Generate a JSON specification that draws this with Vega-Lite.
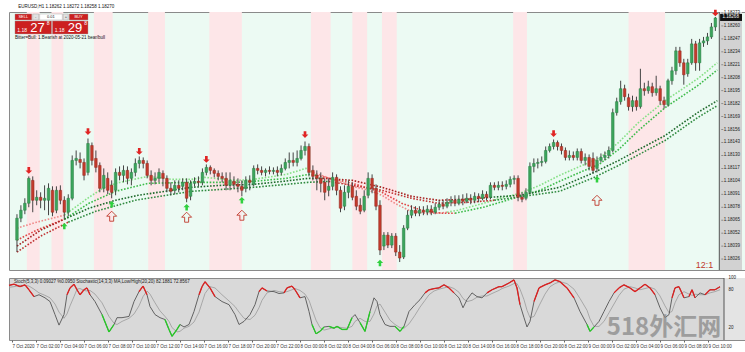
{
"$schema":"https://vega.github.io/schema/vega-lite/v6.json",
"padding":{"left":7,"top":3,"right":0,"bottom":0},
"background":"white",
"spacing":3,
"config":{"font":"Liberation Sans","view":{"stroke":"#8a8a8a","strokeWidth":1}},
"datasets":{
"pticks":[{"t":178.75,"p":1.18273},{"t":178.75,"p":1.1826},{"t":178.75,"p":1.18247},{"t":178.75,"p":1.18234},{"t":178.75,"p":1.18221},{"t":178.75,"p":1.18208},{"t":178.75,"p":1.18195},{"t":178.75,"p":1.18182},{"t":178.75,"p":1.18169},{"t":178.75,"p":1.18156},{"t":178.75,"p":1.18143},{"t":178.75,"p":1.1813},{"t":178.75,"p":1.18117},{"t":178.75,"p":1.18104},{"t":178.75,"p":1.18091},{"t":178.75,"p":1.18078},{"t":178.75,"p":1.18065},{"t":178.75,"p":1.18052},{"t":178.75,"p":1.18039},{"t":178.75,"p":1.18026}],
"sticks":[{"t":178.75,"lv":100},{"t":178.75,"lv":80},{"t":178.75,"lv":20}],
"bars":[
{"t":0,"o":1.18045,"h":1.18071,"l":1.18033,"c":1.18067},
{"t":1,"o":1.18067,"h":1.1808,"l":1.18063,"c":1.18075},
{"t":2,"o":1.18075,"h":1.18087,"l":1.18071,"c":1.18082},
{"t":3,"o":1.18082,"h":1.18109,"l":1.18078,"c":1.18107},
{"t":4,"o":1.18105,"h":1.18109,"l":1.18073,"c":1.18085},
{"t":5,"o":1.18085,"h":1.18095,"l":1.1808,"c":1.18088},
{"t":6,"o":1.18088,"h":1.18093,"l":1.18077,"c":1.18085},
{"t":7,"o":1.18085,"h":1.181,"l":1.18075,"c":1.18087},
{"t":8,"o":1.18085,"h":1.18102,"l":1.1807,"c":1.18097},
{"t":9,"o":1.18095,"h":1.18099,"l":1.18069,"c":1.18073},
{"t":10,"o":1.18075,"h":1.18099,"l":1.18072,"c":1.18095},
{"t":11,"o":1.18095,"h":1.181,"l":1.18081,"c":1.18085},
{"t":12,"o":1.18085,"h":1.18089,"l":1.18067,"c":1.18073},
{"t":13,"o":1.18073,"h":1.18091,"l":1.18069,"c":1.18087},
{"t":14,"o":1.18087,"h":1.1813,"l":1.18085,"c":1.18125},
{"t":15,"o":1.18125,"h":1.18135,"l":1.1812,"c":1.18127},
{"t":16,"o":1.18126,"h":1.18133,"l":1.18117,"c":1.18123},
{"t":17,"o":1.18123,"h":1.18127,"l":1.18105,"c":1.1811},
{"t":18,"o":1.18113,"h":1.18147,"l":1.1811,"c":1.18142},
{"t":19,"o":1.1814,"h":1.18143,"l":1.1812,"c":1.18125},
{"t":20,"o":1.18127,"h":1.18135,"l":1.18113,"c":1.18118},
{"t":21,"o":1.1812,"h":1.18123,"l":1.18093,"c":1.18097},
{"t":22,"o":1.18097,"h":1.18117,"l":1.18093,"c":1.1811},
{"t":23,"o":1.18107,"h":1.18113,"l":1.18091,"c":1.18095},
{"t":24,"o":1.181,"h":1.18105,"l":1.18087,"c":1.18093},
{"t":25,"o":1.18095,"h":1.18117,"l":1.1809,"c":1.18113},
{"t":26,"o":1.18113,"h":1.18119,"l":1.18105,"c":1.1811},
{"t":27,"o":1.1811,"h":1.1812,"l":1.18103,"c":1.18115},
{"t":28,"o":1.18115,"h":1.18119,"l":1.18101,"c":1.18107},
{"t":29,"o":1.18107,"h":1.18117,"l":1.181,"c":1.18113},
{"t":30,"o":1.18113,"h":1.18127,"l":1.18109,"c":1.18122},
{"t":31,"o":1.18122,"h":1.18129,"l":1.18117,"c":1.18125},
{"t":32,"o":1.18125,"h":1.18128,"l":1.18117,"c":1.18122},
{"t":33,"o":1.18122,"h":1.18125,"l":1.18107,"c":1.1811},
{"t":34,"o":1.1811,"h":1.18115,"l":1.181,"c":1.18105},
{"t":35,"o":1.18105,"h":1.18113,"l":1.18101,"c":1.18107},
{"t":36,"o":1.18107,"h":1.18117,"l":1.18103,"c":1.18113},
{"t":37,"o":1.18112,"h":1.18115,"l":1.18099,"c":1.18107},
{"t":38,"o":1.18107,"h":1.1811,"l":1.18093,"c":1.18097},
{"t":39,"o":1.18097,"h":1.18103,"l":1.1809,"c":1.18094},
{"t":40,"o":1.18095,"h":1.18105,"l":1.18091,"c":1.181},
{"t":41,"o":1.181,"h":1.18105,"l":1.18093,"c":1.18097},
{"t":42,"o":1.18099,"h":1.18107,"l":1.18095,"c":1.18103},
{"t":43,"o":1.18103,"h":1.18107,"l":1.18083,"c":1.18087},
{"t":44,"o":1.18089,"h":1.18105,"l":1.18085,"c":1.18102},
{"t":45,"o":1.18102,"h":1.18108,"l":1.18099,"c":1.18104},
{"t":46,"o":1.18104,"h":1.18109,"l":1.18099,"c":1.18103},
{"t":47,"o":1.18103,"h":1.18117,"l":1.181,"c":1.18113},
{"t":48,"o":1.18113,"h":1.18121,"l":1.1811,"c":1.18118},
{"t":49,"o":1.18118,"h":1.1812,"l":1.18111,"c":1.18115},
{"t":50,"o":1.18115,"h":1.18117,"l":1.18108,"c":1.18112},
{"t":51,"o":1.18112,"h":1.18115,"l":1.18105,"c":1.18109},
{"t":52,"o":1.18109,"h":1.18113,"l":1.18103,"c":1.18107},
{"t":53,"o":1.18107,"h":1.18113,"l":1.18095,"c":1.181},
{"t":54,"o":1.181,"h":1.18113,"l":1.18095,"c":1.18105},
{"t":55,"o":1.18104,"h":1.18109,"l":1.18097,"c":1.18101},
{"t":56,"o":1.18101,"h":1.18107,"l":1.18093,"c":1.18099},
{"t":57,"o":1.18099,"h":1.18105,"l":1.18089,"c":1.18095},
{"t":58,"o":1.18097,"h":1.18109,"l":1.18093,"c":1.18105},
{"t":59,"o":1.18105,"h":1.1811,"l":1.18095,"c":1.18103},
{"t":60,"o":1.18101,"h":1.1812,"l":1.18099,"c":1.18117},
{"t":61,"o":1.18117,"h":1.18121,"l":1.18111,"c":1.18115},
{"t":62,"o":1.18115,"h":1.18119,"l":1.1811,"c":1.18113},
{"t":63,"o":1.18113,"h":1.18117,"l":1.18109,"c":1.18115},
{"t":64,"o":1.18115,"h":1.18119,"l":1.18111,"c":1.18114},
{"t":65,"o":1.18114,"h":1.18118,"l":1.18111,"c":1.18115},
{"t":66,"o":1.18115,"h":1.18119,"l":1.18109,"c":1.18113},
{"t":67,"o":1.18113,"h":1.18121,"l":1.1811,"c":1.18117},
{"t":68,"o":1.18117,"h":1.18127,"l":1.18115,"c":1.18123},
{"t":69,"o":1.18123,"h":1.18133,"l":1.18117,"c":1.18125},
{"t":70,"o":1.18125,"h":1.18133,"l":1.18119,"c":1.18123},
{"t":71,"o":1.18123,"h":1.18135,"l":1.18119,"c":1.18127},
{"t":72,"o":1.18127,"h":1.1814,"l":1.18125,"c":1.18135},
{"t":73,"o":1.18135,"h":1.18144,"l":1.1813,"c":1.18139},
{"t":74,"o":1.18139,"h":1.18142,"l":1.18109,"c":1.18113},
{"t":75,"o":1.18115,"h":1.1812,"l":1.18105,"c":1.18109},
{"t":76,"o":1.1811,"h":1.18115,"l":1.18095,"c":1.18107},
{"t":77,"o":1.18107,"h":1.18113,"l":1.18093,"c":1.18102},
{"t":78,"o":1.18103,"h":1.18107,"l":1.18085,"c":1.18093},
{"t":79,"o":1.18095,"h":1.18107,"l":1.18089,"c":1.18099},
{"t":80,"o":1.18099,"h":1.18113,"l":1.18095,"c":1.18108},
{"t":81,"o":1.18108,"h":1.18111,"l":1.1809,"c":1.18095},
{"t":82,"o":1.18095,"h":1.18099,"l":1.18073,"c":1.18077},
{"t":83,"o":1.18079,"h":1.181,"l":1.18075,"c":1.18093},
{"t":84,"o":1.18093,"h":1.18105,"l":1.18087,"c":1.18099},
{"t":85,"o":1.18099,"h":1.18103,"l":1.18085,"c":1.18088},
{"t":86,"o":1.18089,"h":1.18095,"l":1.18075,"c":1.18079},
{"t":87,"o":1.1808,"h":1.18087,"l":1.18071,"c":1.18074},
{"t":88,"o":1.18075,"h":1.18095,"l":1.18073,"c":1.18089},
{"t":89,"o":1.1809,"h":1.18113,"l":1.18087,"c":1.18107},
{"t":90,"o":1.18107,"h":1.18111,"l":1.18092,"c":1.18097},
{"t":91,"o":1.18097,"h":1.18101,"l":1.18075,"c":1.18079},
{"t":92,"o":1.1808,"h":1.18085,"l":1.1803,"c":1.18035},
{"t":93,"o":1.18039,"h":1.18053,"l":1.18035,"c":1.1805},
{"t":94,"o":1.1805,"h":1.18053,"l":1.18037,"c":1.1804},
{"t":95,"o":1.1804,"h":1.18052,"l":1.18037,"c":1.18049},
{"t":96,"o":1.18049,"h":1.18052,"l":1.18029,"c":1.18033},
{"t":97,"o":1.18033,"h":1.1804,"l":1.18023,"c":1.18027},
{"t":98,"o":1.18028,"h":1.1806,"l":1.18026,"c":1.18057},
{"t":99,"o":1.18057,"h":1.18075,"l":1.18055,"c":1.1807},
{"t":100,"o":1.1807,"h":1.1808,"l":1.18067,"c":1.18075},
{"t":101,"o":1.18075,"h":1.18079,"l":1.18069,"c":1.18072},
{"t":102,"o":1.18072,"h":1.18079,"l":1.18069,"c":1.18075},
{"t":103,"o":1.18075,"h":1.18079,"l":1.1807,"c":1.18073},
{"t":104,"o":1.18073,"h":1.1808,"l":1.1807,"c":1.18076},
{"t":105,"o":1.18076,"h":1.1808,"l":1.1807,"c":1.18073},
{"t":106,"o":1.18073,"h":1.18082,"l":1.18071,"c":1.18078},
{"t":107,"o":1.18078,"h":1.18085,"l":1.18075,"c":1.18081},
{"t":108,"o":1.18081,"h":1.18085,"l":1.18076,"c":1.18079},
{"t":109,"o":1.18079,"h":1.18087,"l":1.18077,"c":1.18083},
{"t":110,"o":1.18083,"h":1.18089,"l":1.18079,"c":1.18085},
{"t":111,"o":1.18085,"h":1.1809,"l":1.18079,"c":1.18082},
{"t":112,"o":1.18082,"h":1.1809,"l":1.1808,"c":1.18086},
{"t":113,"o":1.18086,"h":1.18091,"l":1.1808,"c":1.18084},
{"t":114,"o":1.18084,"h":1.18092,"l":1.18082,"c":1.18087},
{"t":115,"o":1.18087,"h":1.18091,"l":1.18081,"c":1.18085},
{"t":116,"o":1.18085,"h":1.18093,"l":1.18082,"c":1.18089},
{"t":117,"o":1.18089,"h":1.18092,"l":1.18083,"c":1.18087},
{"t":118,"o":1.18087,"h":1.18095,"l":1.18085,"c":1.18091},
{"t":119,"o":1.18091,"h":1.18094,"l":1.18085,"c":1.18088},
{"t":120,"o":1.18088,"h":1.18103,"l":1.18086,"c":1.181},
{"t":121,"o":1.181,"h":1.18103,"l":1.18095,"c":1.18098},
{"t":122,"o":1.18098,"h":1.18104,"l":1.18095,"c":1.181},
{"t":123,"o":1.181,"h":1.18104,"l":1.18095,"c":1.18099},
{"t":124,"o":1.18099,"h":1.18105,"l":1.18096,"c":1.18101},
{"t":125,"o":1.18101,"h":1.18109,"l":1.18098,"c":1.18106},
{"t":126,"o":1.18106,"h":1.1811,"l":1.18101,"c":1.18107},
{"t":127,"o":1.18107,"h":1.1811,"l":1.18084,"c":1.18088},
{"t":128,"o":1.18088,"h":1.18093,"l":1.18083,"c":1.18086},
{"t":129,"o":1.18087,"h":1.18097,"l":1.18085,"c":1.18093},
{"t":130,"o":1.18093,"h":1.18123,"l":1.18091,"c":1.18119},
{"t":131,"o":1.18119,"h":1.18127,"l":1.18113,"c":1.18122},
{"t":132,"o":1.18122,"h":1.18127,"l":1.18117,"c":1.18123},
{"t":133,"o":1.18123,"h":1.18129,"l":1.18119,"c":1.18124},
{"t":134,"o":1.18124,"h":1.18139,"l":1.18122,"c":1.18135},
{"t":135,"o":1.18135,"h":1.18142,"l":1.18133,"c":1.18139},
{"t":136,"o":1.18139,"h":1.18146,"l":1.18136,"c":1.18143},
{"t":137,"o":1.18143,"h":1.18145,"l":1.18135,"c":1.18139},
{"t":138,"o":1.18139,"h":1.18142,"l":1.18131,"c":1.18135},
{"t":139,"o":1.18135,"h":1.18138,"l":1.18125,"c":1.18128},
{"t":140,"o":1.18128,"h":1.18135,"l":1.18125,"c":1.1813},
{"t":141,"o":1.1813,"h":1.18134,"l":1.18125,"c":1.18128},
{"t":142,"o":1.18128,"h":1.18137,"l":1.18125,"c":1.18134},
{"t":143,"o":1.18134,"h":1.18137,"l":1.18122,"c":1.18125},
{"t":144,"o":1.18125,"h":1.18132,"l":1.1812,"c":1.18128},
{"t":145,"o":1.18128,"h":1.18131,"l":1.18115,"c":1.18119},
{"t":146,"o":1.18127,"h":1.18133,"l":1.18112,"c":1.18115},
{"t":147,"o":1.18117,"h":1.18129,"l":1.18113,"c":1.18125},
{"t":148,"o":1.18125,"h":1.18132,"l":1.18123,"c":1.18128},
{"t":149,"o":1.18128,"h":1.18134,"l":1.18125,"c":1.1813},
{"t":150,"o":1.1813,"h":1.18139,"l":1.18127,"c":1.18135},
{"t":151,"o":1.18135,"h":1.18177,"l":1.18133,"c":1.18173},
{"t":152,"o":1.18173,"h":1.18188,"l":1.1817,"c":1.18184},
{"t":153,"o":1.18184,"h":1.18205,"l":1.18181,"c":1.18197},
{"t":154,"o":1.18197,"h":1.18201,"l":1.18185,"c":1.18189},
{"t":155,"o":1.18188,"h":1.18192,"l":1.18175,"c":1.18179},
{"t":156,"o":1.18179,"h":1.1819,"l":1.18174,"c":1.18185},
{"t":157,"o":1.18185,"h":1.18189,"l":1.18175,"c":1.18179},
{"t":158,"o":1.18179,"h":1.18217,"l":1.18177,"c":1.18197},
{"t":159,"o":1.18197,"h":1.18203,"l":1.1819,"c":1.18195},
{"t":160,"o":1.18195,"h":1.18205,"l":1.18192,"c":1.18199},
{"t":161,"o":1.18199,"h":1.18203,"l":1.18189,"c":1.18193},
{"t":162,"o":1.18193,"h":1.1821,"l":1.1819,"c":1.18197},
{"t":163,"o":1.18197,"h":1.182,"l":1.18181,"c":1.18185},
{"t":164,"o":1.18185,"h":1.18189,"l":1.18177,"c":1.18181},
{"t":165,"o":1.18181,"h":1.18207,"l":1.18179,"c":1.18205},
{"t":166,"o":1.18205,"h":1.18219,"l":1.18201,"c":1.18215},
{"t":167,"o":1.18215,"h":1.18239,"l":1.18211,"c":1.18235},
{"t":168,"o":1.18235,"h":1.18239,"l":1.18219,"c":1.18223},
{"t":169,"o":1.18223,"h":1.18227,"l":1.18201,"c":1.18211},
{"t":170,"o":1.18212,"h":1.18227,"l":1.18209,"c":1.18223},
{"t":171,"o":1.18223,"h":1.18247,"l":1.18221,"c":1.18242},
{"t":172,"o":1.18242,"h":1.18245,"l":1.18215,"c":1.18223},
{"t":173,"o":1.18223,"h":1.18247,"l":1.18215,"c":1.18243},
{"t":174,"o":1.18243,"h":1.18249,"l":1.18239,"c":1.18245},
{"t":175,"o":1.18245,"h":1.18253,"l":1.18241,"c":1.18249},
{"t":176,"o":1.18249,"h":1.18263,"l":1.18247,"c":1.18259},
{"t":177,"o":1.18259,"h":1.18269,"l":1.18255,"c":1.18268}
],
"bands":[{"b1":2.5,"b2":5.75},{"b1":8.75,"b2":11.75},{"b1":19.5,"b2":24.25},{"b1":33.25,"b2":37.5},{"b1":48.75,"b2":57},{"b1":74.5,"b2":79.5},{"b1":85,"b2":88.75},{"b1":92.5,"b2":96.25},{"b1":125.75,"b2":129.25},{"b1":155,"b2":164.25}],
"ma":[
{"t":0,"v":1.18057,"ma":"fast","seg":"f1","trend":"dn"},{"t":5,"v":1.18063,"ma":"fast","seg":"f1","trend":"dn"},{"t":12,"v":1.1807,"ma":"fast","seg":"f1","trend":"dn"},
{"t":12,"v":1.1807,"ma":"fast","seg":"f2","trend":"up"},{"t":18.25,"v":1.18088,"ma":"fast","seg":"f2","trend":"up"},{"t":21.75,"v":1.18097,"ma":"fast","seg":"f2","trend":"up"},{"t":25,"v":1.18102,"ma":"fast","seg":"f2","trend":"up"},{"t":30.75,"v":1.18107,"ma":"fast","seg":"f2","trend":"up"},{"t":33.25,"v":1.18109,"ma":"fast","seg":"f2","trend":"up"},{"t":39.25,"v":1.18106,"ma":"fast","seg":"f2","trend":"up"},{"t":44.25,"v":1.18106,"ma":"fast","seg":"f2","trend":"up"},{"t":47.5,"v":1.18108,"ma":"fast","seg":"f2","trend":"up"},{"t":55.75,"v":1.18105,"ma":"fast","seg":"f2","trend":"up"},{"t":60,"v":1.18106,"ma":"fast","seg":"f2","trend":"up"},{"t":68.25,"v":1.18111,"ma":"fast","seg":"f2","trend":"up"},{"t":73.25,"v":1.18117,"ma":"fast","seg":"f2","trend":"up"},{"t":75,"v":1.18113,"ma":"fast","seg":"f2","trend":"up"},
{"t":75,"v":1.18113,"ma":"fast","seg":"f3","trend":"dn"},{"t":80.75,"v":1.18105,"ma":"fast","seg":"f3","trend":"dn"},{"t":85,"v":1.18099,"ma":"fast","seg":"f3","trend":"dn"},{"t":89.25,"v":1.18095,"ma":"fast","seg":"f3","trend":"dn"},{"t":92.5,"v":1.1809,"ma":"fast","seg":"f3","trend":"dn"},{"t":95.75,"v":1.18082,"ma":"fast","seg":"f3","trend":"dn"},{"t":99.25,"v":1.18075,"ma":"fast","seg":"f3","trend":"dn"},{"t":103.25,"v":1.18072,"ma":"fast","seg":"f3","trend":"dn"},{"t":106.75,"v":1.18072,"ma":"fast","seg":"f3","trend":"dn"},{"t":109,"v":1.18073,"ma":"fast","seg":"f3","trend":"dn"},
{"t":109,"v":1.18073,"ma":"fast","seg":"f4","trend":"up"},{"t":111.75,"v":1.18075,"ma":"fast","seg":"f4","trend":"up"},{"t":118.25,"v":1.18082,"ma":"fast","seg":"f4","trend":"up"},{"t":122.5,"v":1.18087,"ma":"fast","seg":"f4","trend":"up"},{"t":127.5,"v":1.18092,"ma":"fast","seg":"f4","trend":"up"},{"t":132.5,"v":1.181,"ma":"fast","seg":"f4","trend":"up"},{"t":137.5,"v":1.1811,"ma":"fast","seg":"f4","trend":"up"},{"t":143.25,"v":1.1812,"ma":"fast","seg":"f4","trend":"up"},{"t":147.5,"v":1.18127,"ma":"fast","seg":"f4","trend":"up"},{"t":152.5,"v":1.18143,"ma":"fast","seg":"f4","trend":"up"},{"t":157.5,"v":1.18163,"ma":"fast","seg":"f4","trend":"up"},{"t":164.25,"v":1.18185,"ma":"fast","seg":"f4","trend":"up"},{"t":172.5,"v":1.18207,"ma":"fast","seg":"f4","trend":"up"},{"t":177.5,"v":1.18223,"ma":"fast","seg":"f4","trend":"up"},
{"t":0,"v":1.18045,"ma":"mid","seg":"m1","trend":"dn"},{"t":5,"v":1.18055,"ma":"mid","seg":"m1","trend":"dn"},{"t":12,"v":1.18066,"ma":"mid","seg":"m1","trend":"dn"},
{"t":12,"v":1.18066,"ma":"mid","seg":"m2","trend":"up"},{"t":18.25,"v":1.18082,"ma":"mid","seg":"m2","trend":"up"},{"t":25,"v":1.18094,"ma":"mid","seg":"m2","trend":"up"},{"t":33.25,"v":1.18102,"ma":"mid","seg":"m2","trend":"up"},{"t":44.25,"v":1.18103,"ma":"mid","seg":"m2","trend":"up"},{"t":55.75,"v":1.18103,"ma":"mid","seg":"m2","trend":"up"},{"t":60,"v":1.18104,"ma":"mid","seg":"m2","trend":"up"},{"t":68.25,"v":1.18107,"ma":"mid","seg":"m2","trend":"up"},{"t":74,"v":1.18111,"ma":"mid","seg":"m2","trend":"up"},{"t":76,"v":1.1811,"ma":"mid","seg":"m2","trend":"up"},
{"t":76,"v":1.1811,"ma":"mid","seg":"m3","trend":"dn"},{"t":85,"v":1.18102,"ma":"mid","seg":"m3","trend":"dn"},{"t":92.5,"v":1.18093,"ma":"mid","seg":"m3","trend":"dn"},{"t":97.5,"v":1.18082,"ma":"mid","seg":"m3","trend":"dn"},{"t":102.5,"v":1.18075,"ma":"mid","seg":"m3","trend":"dn"},{"t":107.5,"v":1.18072,"ma":"mid","seg":"m3","trend":"dn"},{"t":111,"v":1.18072,"ma":"mid","seg":"m3","trend":"dn"},
{"t":111,"v":1.18072,"ma":"mid","seg":"m4","trend":"up"},{"t":118.25,"v":1.18078,"ma":"mid","seg":"m4","trend":"up"},{"t":122.5,"v":1.18083,"ma":"mid","seg":"m4","trend":"up"},{"t":132.5,"v":1.18095,"ma":"mid","seg":"m4","trend":"up"},{"t":137.5,"v":1.18104,"ma":"mid","seg":"m4","trend":"up"},{"t":143.25,"v":1.18114,"ma":"mid","seg":"m4","trend":"up"},{"t":147.5,"v":1.18121,"ma":"mid","seg":"m4","trend":"up"},{"t":152.5,"v":1.18136,"ma":"mid","seg":"m4","trend":"up"},{"t":157.5,"v":1.18155,"ma":"mid","seg":"m4","trend":"up"},{"t":164.25,"v":1.18178,"ma":"mid","seg":"m4","trend":"up"},{"t":172.5,"v":1.182,"ma":"mid","seg":"m4","trend":"up"},{"t":177.5,"v":1.18216,"ma":"mid","seg":"m4","trend":"up"},
{"t":0,"v":1.18039,"ma":"slow","seg":"s1","trend":"dn"},{"t":6,"v":1.18055,"ma":"slow","seg":"s1","trend":"dn"},{"t":12,"v":1.18066,"ma":"slow","seg":"s1","trend":"dn"},
{"t":12,"v":1.18066,"ma":"slow","seg":"s2","trend":"up"},{"t":18.25,"v":1.18077,"ma":"slow","seg":"s2","trend":"up"},{"t":25,"v":1.18085,"ma":"slow","seg":"s2","trend":"up"},{"t":30.75,"v":1.1809,"ma":"slow","seg":"s2","trend":"up"},{"t":39.25,"v":1.18095,"ma":"slow","seg":"s2","trend":"up"},{"t":44.25,"v":1.18098,"ma":"slow","seg":"s2","trend":"up"},{"t":51.75,"v":1.181,"ma":"slow","seg":"s2","trend":"up"},{"t":60,"v":1.18101,"ma":"slow","seg":"s2","trend":"up"},{"t":67.5,"v":1.18104,"ma":"slow","seg":"s2","trend":"up"},{"t":73.75,"v":1.18107,"ma":"slow","seg":"s2","trend":"up"},{"t":77.5,"v":1.18107,"ma":"slow","seg":"s2","trend":"up"},
{"t":77.5,"v":1.18107,"ma":"slow","seg":"s3","trend":"dn"},{"t":85,"v":1.18105,"ma":"slow","seg":"s3","trend":"dn"},{"t":92.5,"v":1.18098,"ma":"slow","seg":"s3","trend":"dn"},{"t":100,"v":1.18089,"ma":"slow","seg":"s3","trend":"dn"},{"t":106.75,"v":1.18085,"ma":"slow","seg":"s3","trend":"dn"},{"t":114.25,"v":1.18086,"ma":"slow","seg":"s3","trend":"dn"},{"t":120,"v":1.18088,"ma":"slow","seg":"s3","trend":"dn"},
{"t":120,"v":1.18088,"ma":"slow","seg":"s4","trend":"up"},{"t":127.5,"v":1.1809,"ma":"slow","seg":"s4","trend":"up"},{"t":137.5,"v":1.18098,"ma":"slow","seg":"s4","trend":"up"},{"t":145.75,"v":1.18112,"ma":"slow","seg":"s4","trend":"up"},{"t":152.5,"v":1.18125,"ma":"slow","seg":"s4","trend":"up"},{"t":164.25,"v":1.1815,"ma":"slow","seg":"s4","trend":"up"},{"t":172.5,"v":1.18173,"ma":"slow","seg":"s4","trend":"up"},{"t":177.5,"v":1.18185,"ma":"slow","seg":"s4","trend":"up"},
{"t":0,"v":1.18033,"ma":"slowb","seg":"b1","trend":"dn"},{"t":6,"v":1.18049,"ma":"slowb","seg":"b1","trend":"dn"},{"t":13,"v":1.18063,"ma":"slowb","seg":"b1","trend":"dn"},
{"t":13,"v":1.18063,"ma":"slowb","seg":"b2","trend":"up"},{"t":20,"v":1.18074,"ma":"slowb","seg":"b2","trend":"up"},{"t":30,"v":1.18085,"ma":"slowb","seg":"b2","trend":"up"},{"t":44.25,"v":1.18094,"ma":"slowb","seg":"b2","trend":"up"},{"t":60,"v":1.18098,"ma":"slowb","seg":"b2","trend":"up"},{"t":73.75,"v":1.18103,"ma":"slowb","seg":"b2","trend":"up"},{"t":79,"v":1.18104,"ma":"slowb","seg":"b2","trend":"up"},
{"t":79,"v":1.18104,"ma":"slowb","seg":"b3","trend":"dn"},{"t":92.5,"v":1.18095,"ma":"slowb","seg":"b3","trend":"dn"},{"t":100,"v":1.18087,"ma":"slowb","seg":"b3","trend":"dn"},{"t":106.75,"v":1.18082,"ma":"slowb","seg":"b3","trend":"dn"},{"t":114.25,"v":1.18083,"ma":"slowb","seg":"b3","trend":"dn"},{"t":121,"v":1.18085,"ma":"slowb","seg":"b3","trend":"dn"},
{"t":121,"v":1.18085,"ma":"slowb","seg":"b4","trend":"up"},{"t":137.5,"v":1.18094,"ma":"slowb","seg":"b4","trend":"up"},{"t":145.75,"v":1.18107,"ma":"slowb","seg":"b4","trend":"up"},{"t":152.5,"v":1.1812,"ma":"slowb","seg":"b4","trend":"up"},{"t":164.25,"v":1.18145,"ma":"slowb","seg":"b4","trend":"up"},{"t":172.5,"v":1.18168,"ma":"slowb","seg":"b4","trend":"up"},{"t":177.5,"v":1.1818,"ma":"slowb","seg":"b4","trend":"up"}
],
"arrows":[
{"t":3,"p":1.18115,"type":"sell"},{"t":18,"p":1.18154,"type":"sell"},{"t":31,"p":1.18134,"type":"sell"},{"t":48,"p":1.18126,"type":"sell"},{"t":73,"p":1.18151,"type":"sell"},{"t":136,"p":1.18152,"type":"sell"},{"t":177,"p":1.18273,"type":"sell"},
{"t":12,"p":1.18059,"type":"buy"},{"t":24,"p":1.18081,"type":"buy"},{"t":43,"p":1.18078,"type":"buy"},{"t":57,"p":1.18085,"type":"buy"},{"t":92,"p":1.18022,"type":"buy"},{"t":147,"p":1.18106,"type":"buy"},
{"t":24,"p":1.18069,"type":"hollow"},{"t":43,"p":1.18068,"type":"hollow"},{"t":57,"p":1.1807,"type":"hollow"},{"t":147,"p":1.18085,"type":"hollow"}
],
"ui":[
{"t1":-0.5,"t2":3.75,"p1":1.18272,"p2":1.18266,"kind":"red"},
{"t1":4,"t2":5.5,"p1":1.18272,"p2":1.18266,"kind":"grey"},
{"t1":5.75,"t2":11.5,"p1":1.18272,"p2":1.18266,"kind":"white"},
{"t1":11.75,"t2":13,"p1":1.18272,"p2":1.18266,"kind":"grey"},
{"t1":13.25,"t2":18,"p1":1.18272,"p2":1.18266,"kind":"red"},
{"t1":-0.5,"t2":8.75,"p1":1.18265,"p2":1.18252,"kind":"red"},
{"t1":9,"t2":18,"p1":1.18265,"p2":1.18252,"kind":"red"}
],
"uitext":[
{"t":1.6,"p":1.18269,"label":"SELL","role":"btn"},
{"t":4.75,"p":1.18269,"label":"-","role":"dark"},
{"t":8.6,"p":1.18269,"label":"0.01","role":"dark"},
{"t":12.4,"p":1.18269,"label":"+","role":"dark"},
{"t":15.6,"p":1.18269,"label":"BUY","role":"btn"},
{"t":1.3,"p":1.18256,"label":"1.18","role":"small"},
{"t":5.2,"p":1.18258,"label":"27","role":"big"},
{"t":7.9,"p":1.18263,"label":"8","role":"small"},
{"t":10.8,"p":1.18256,"label":"1.18","role":"small"},
{"t":14.7,"p":1.18258,"label":"29","role":"big"},
{"t":17.4,"p":1.18263,"label":"8","role":"small"},
{"t":174.25,"p":1.1802,"label":"12:1","role":"ratio"},
{"t":180.9,"p":1.182685,"label":"1.18268","role":"pricebox"}
],
"uileft":[
{"t":-0.5,"p":1.18248,"label":"Bitter=Bull: 1.Bearish at 2020-05-21 bear/bull"},
{"t":0.3,"p":1.18279,"label":"EURUSD,H1  1.18262 1.18272 1.18258 1.18270"}
],
"stoch":[
{"t":-0.75,"k":88,"d":85},{"t":0.5,"k":90,"d":86},{"t":2,"k":86,"d":88},{"t":3.25,"k":89,"d":88},{"t":4.25,"k":81,"d":87},{"t":5.5,"k":70,"d":82},{"t":6.75,"k":73,"d":76},{"t":8.25,"k":68,"d":72},{"t":9.5,"k":62,"d":68},{"t":10.75,"k":41,"d":58},{"t":11.75,"k":24,"d":45},{"t":13,"k":41,"d":35},{"t":13.75,"k":73,"d":42},{"t":14.5,"k":84,"d":55},{"t":15.5,"k":90,"d":70},{"t":16.25,"k":81,"d":82},{"t":17,"k":73,"d":83},{"t":18,"k":81,"d":80},{"t":18.75,"k":84,"d":79},{"t":19.5,"k":73,"d":80},{"t":20.75,"k":62,"d":74},{"t":22.5,"k":41,"d":60},{"t":24.25,"k":13,"d":38},{"t":25.5,"k":25,"d":27},{"t":26.25,"k":36,"d":25},{"t":27.5,"k":36,"d":30},{"t":29.25,"k":38,"d":35},{"t":30.5,"k":62,"d":42},{"t":31.75,"k":78,"d":55},{"t":32.75,"k":87,"d":70},{"t":33.75,"k":73,"d":79},{"t":34.5,"k":54,"d":74},{"t":35.75,"k":41,"d":60},{"t":37,"k":36,"d":47},{"t":38.25,"k":33,"d":38},{"t":39.25,"k":17,"d":30},{"t":40,"k":6,"d":20},{"t":41.25,"k":17,"d":13},{"t":42,"k":25,"d":14},{"t":43,"k":21,"d":19},{"t":44.25,"k":25,"d":22},{"t":45.5,"k":46,"d":29},{"t":46.75,"k":73,"d":45},{"t":47.5,"k":86,"d":60},{"t":48.25,"k":94,"d":75},{"t":49.5,"k":84,"d":86},{"t":50.75,"k":70,"d":84},{"t":52.5,"k":62,"d":73},{"t":54.25,"k":57,"d":63},{"t":55.75,"k":41,"d":54},{"t":56.75,"k":25,"d":45},{"t":58,"k":30,"d":35},{"t":59.5,"k":41,"d":33},{"t":60.75,"k":57,"d":40},{"t":61.75,"k":78,"d":52},{"t":62.5,"k":84,"d":64},{"t":63.75,"k":79,"d":76},{"t":65.5,"k":78,"d":80},{"t":66.75,"k":75,"d":78},{"t":68,"k":76,"d":77},{"t":68.75,"k":84,"d":78},{"t":70,"k":87,"d":81},{"t":70.75,"k":81,"d":83},{"t":72,"k":68,"d":80},{"t":73.25,"k":70,"d":74},{"t":74.25,"k":46,"d":64},{"t":75,"k":25,"d":50},{"t":76,"k":10,"d":32},{"t":77,"k":14,"d":20},{"t":78,"k":21,"d":16},{"t":79.25,"k":22,"d":18},{"t":80.5,"k":19,"d":20},{"t":81.25,"k":22,"d":21},{"t":82.5,"k":17,"d":20},{"t":83.75,"k":17,"d":19},{"t":85,"k":36,"d":22},{"t":85.75,"k":41,"d":30},{"t":87,"k":28,"d":35},{"t":88.25,"k":14,"d":30},{"t":89.5,"k":46,"d":30},{"t":90.5,"k":68,"d":42},{"t":91.25,"k":62,"d":55},{"t":92,"k":41,"d":58},{"t":93.25,"k":25,"d":45},{"t":94.5,"k":22,"d":32},{"t":95.75,"k":22,"d":25},{"t":97,"k":14,"d":20},{"t":98,"k":22,"d":19},{"t":99.25,"k":46,"d":26},{"t":100.75,"k":57,"d":40},{"t":102,"k":65,"d":53},{"t":103.25,"k":76,"d":64},{"t":104.25,"k":81,"d":73},{"t":105.5,"k":83,"d":79},{"t":106.75,"k":84,"d":82},{"t":108,"k":89,"d":84},{"t":109.25,"k":84,"d":86},{"t":110.5,"k":76,"d":83},{"t":111.75,"k":68,"d":77},{"t":112.75,"k":52,"d":67},{"t":113.75,"k":65,"d":62},{"t":115,"k":76,"d":64},{"t":116.25,"k":70,"d":69},{"t":117.5,"k":68,"d":71},{"t":118.75,"k":76,"d":71},{"t":120,"k":81,"d":75},{"t":121.75,"k":86,"d":80},{"t":122.5,"k":86,"d":83},{"t":124.25,"k":92,"d":87},{"t":125.5,"k":97,"d":91},{"t":126.25,"k":84,"d":91},{"t":127,"k":57,"d":82},{"t":128,"k":36,"d":65},{"t":128.75,"k":21,"d":48},{"t":129.5,"k":30,"d":36},{"t":130.5,"k":62,"d":38},{"t":131.75,"k":84,"d":55},{"t":133.25,"k":89,"d":74},{"t":134.5,"k":92,"d":86},{"t":135.75,"k":97,"d":91},{"t":137,"k":94,"d":94},{"t":138.75,"k":84,"d":91},{"t":140.5,"k":68,"d":82},{"t":142,"k":46,"d":67},{"t":143.75,"k":25,"d":48},{"t":144.5,"k":14,"d":34},{"t":145.5,"k":21,"d":22},{"t":146.75,"k":30,"d":22},{"t":148,"k":46,"d":30},{"t":149.25,"k":62,"d":44},{"t":150.5,"k":76,"d":58},{"t":151.75,"k":84,"d":72},{"t":153,"k":89,"d":82},{"t":154.5,"k":84,"d":86},{"t":155.75,"k":78,"d":84},{"t":157,"k":84,"d":81},{"t":158.25,"k":90,"d":83},{"t":159.5,"k":84,"d":85},{"t":160.75,"k":73,"d":82},{"t":162,"k":52,"d":71},{"t":163.25,"k":36,"d":55},{"t":164.25,"k":41,"d":44},{"t":165,"k":68,"d":46},{"t":165.75,"k":84,"d":60},{"t":166.75,"k":86,"d":73},{"t":168,"k":68,"d":78},{"t":169.25,"k":70,"d":74},{"t":170,"k":81,"d":72},{"t":170.75,"k":68,"d":74},{"t":172,"k":76,"d":73},{"t":173.25,"k":73,"d":73},{"t":174.5,"k":81,"d":76},{"t":175.75,"k":81,"d":78},{"t":177,"k":86,"d":81}
]
},
"vconcat":[
{
"width":738,"height":258,
"view":{"fill":"#ecfaf3","stroke":"#8a8a8a"},
"encoding":{"x":{"field":"t","type":"quantitative","scale":{"domain":[-0.75,183.75],"nice":false,"zero":false},"axis":null}},
"layer":[
{"data":{"name":"bands"},"mark":{"type":"rect","color":"#fde6e8","clip":true},
 "encoding":{"x":{"field":"b1","type":"quantitative"},"x2":{"field":"b2"}}},
{"data":{"values":[{"p":1.18268}]},"mark":{"type":"rule","color":"#b5b5b5","strokeWidth":0.7},
 "encoding":{"x":{"datum":-0.75,"type":"quantitative"},"x2":{"datum":178},
  "y":{"field":"p","type":"quantitative","scale":{"domain":[1.18015,1.18274],"nice":false,"zero":false},"axis":null}}},
{"data":{"name":"ma"},"mark":{"type":"line","strokeDash":[1.6,1.6],"strokeWidth":1.6,"clip":true},
 "encoding":{"y":{"field":"v","type":"quantitative"},"detail":{"field":"seg"},"order":{"field":"t"},
  "color":{"condition":[
   {"test":"datum.ma=='fast' && datum.trend=='up'","value":"#86e086"},
   {"test":"datum.ma=='fast'","value":"#f08a8a"},
   {"test":"datum.ma=='mid' && datum.trend=='up'","value":"#3dbb4a"},
   {"test":"datum.ma=='mid'","value":"#e04848"},
   {"test":"datum.ma=='slow' && datum.trend=='up'","value":"#1f6a2c"},
   {"test":"datum.ma=='slow'","value":"#a82222"},
   {"test":"datum.trend=='up'","value":"#2f8a3f"}],"value":"#c03333"}}},
{"data":{"name":"bars"},"mark":{"type":"rule","strokeWidth":1,"color":"#444"},
 "encoding":{"y":{"field":"l","type":"quantitative"},"y2":{"field":"h"}}},
{"data":{"name":"bars"},"mark":{"type":"bar","width":2.6,"strokeWidth":0.5},
 "encoding":{"y":{"field":"o","type":"quantitative"},"y2":{"field":"c"},
  "color":{"condition":{"test":"datum.c >= datum.o","value":"#3ba55c"},"value":"#c43a2c"},
  "stroke":{"condition":{"test":"datum.c >= datum.o","value":"#2d7d45"},"value":"#8c2a20"}}},
{"data":{"name":"arrows"},"transform":[{"filter":"datum.type=='sell'"}],
 "mark":{"type":"point","shape":"M-0.4,-1L0.4,-1L0.4,0L1,0L0,1L-1,0L-0.4,0Z","filled":true,"color":"#e02424","size":45,"opacity":1},
 "encoding":{"y":{"field":"p","type":"quantitative"}}},
{"data":{"name":"arrows"},"transform":[{"filter":"datum.type=='buy'"}],
 "mark":{"type":"point","shape":"M0,-1L1,0L0.4,0L0.4,1L-0.4,1L-0.4,0L-1,0Z","filled":true,"color":"#2fd03f","size":40,"opacity":1},
 "encoding":{"y":{"field":"p","type":"quantitative"}}},
{"data":{"name":"arrows"},"transform":[{"filter":"datum.type=='hollow'"}],
 "mark":{"type":"point","shape":"M0,-1L1,0L0.4,0L0.4,1L-0.4,1L-0.4,0L-1,0Z","filled":false,"color":"#c0392b","strokeWidth":0.9,"size":100,"opacity":1},
 "encoding":{"y":{"field":"p","type":"quantitative"}}},
{"data":{"values":[{"a":178,"b":183.75}]},"mark":{"type":"rect","color":"#d2d2d2"},
 "encoding":{"x":{"field":"a","type":"quantitative"},"x2":{"field":"b"}}},
{"data":{"values":[{"a":178}]},"mark":{"type":"rule","color":"#555","strokeWidth":1},
 "encoding":{"x":{"field":"a","type":"quantitative"}}},
{"data":{"name":"pticks"},"mark":{"type":"tick","orient":"horizontal","color":"#555","size":2,"thickness":0.8},
 "encoding":{"x":{"field":"t","type":"quantitative"},"y":{"field":"p","type":"quantitative"}}},
{"data":{"name":"pticks"},"mark":{"type":"text","align":"left","baseline":"middle","fontSize":4.5,"color":"#222","dx":1.5},
 "encoding":{"x":{"field":"t","type":"quantitative"},"y":{"field":"p","type":"quantitative"},"text":{"field":"p","type":"quantitative","format":".5f"}}},
{"data":{"values":[{"a":178.2,"b":183.75,"p1":1.18272,"p2":1.18265}]},"mark":{"type":"rect","color":"#111"},
 "encoding":{"x":{"field":"a","type":"quantitative"},"x2":{"field":"b"},"y":{"field":"p1","type":"quantitative"},"y2":{"field":"p2"}}},
{"data":{"name":"uitext"},"transform":[{"filter":"datum.role=='pricebox'"}],"mark":{"type":"text","color":"white","fontSize":4.5,"baseline":"middle","align":"center"},
 "encoding":{"y":{"field":"p","type":"quantitative"},"text":{"field":"label"}}},
{"data":{"name":"ui"},"mark":{"type":"rect","stroke":"#9a9a9a","strokeWidth":0.4},
 "encoding":{"x":{"field":"t1","type":"quantitative"},"x2":{"field":"t2"},"y":{"field":"p1","type":"quantitative"},"y2":{"field":"p2"},
  "color":{"field":"kind","type":"nominal","scale":{"domain":["red","grey","white"],"range":["#cc2020","#e2e2e2","#ffffff"]},"legend":null}}},
{"data":{"name":"uitext"},"transform":[{"filter":"datum.role=='btn'"}],"mark":{"type":"text","align":"center","baseline":"middle","fontSize":4,"color":"#ffffff"},
 "encoding":{"y":{"field":"p","type":"quantitative"},"text":{"field":"label"}}},
{"data":{"name":"uitext"},"transform":[{"filter":"datum.role=='dark'"}],"mark":{"type":"text","align":"center","baseline":"middle","fontSize":4,"color":"#222222"},
 "encoding":{"y":{"field":"p","type":"quantitative"},"text":{"field":"label"}}},
{"data":{"name":"uitext"},"transform":[{"filter":"datum.role=='small'"}],"mark":{"type":"text","align":"center","baseline":"middle","fontSize":5,"color":"#ffffff"},
 "encoding":{"y":{"field":"p","type":"quantitative"},"text":{"field":"label"}}},
{"data":{"name":"uitext"},"transform":[{"filter":"datum.role=='big'"}],"mark":{"type":"text","align":"center","baseline":"middle","fontSize":13,"color":"#ffffff"},
 "encoding":{"y":{"field":"p","type":"quantitative"},"text":{"field":"label"}}},
{"data":{"name":"uitext"},"transform":[{"filter":"datum.role=='ratio'"}],"mark":{"type":"text","align":"center","baseline":"middle","fontSize":9,"color":"#c0392b"},
 "encoding":{"y":{"field":"p","type":"quantitative"},"text":{"field":"label"}}},
{"data":{"name":"uileft"},"mark":{"type":"text","align":"left","baseline":"middle","fontSize":4.5,"color":"#111"},
 "encoding":{"y":{"field":"p","type":"quantitative"},"text":{"field":"label"}}}
]
},
{
"width":738,"height":62,
"view":{"fill":"#d9d9d9","stroke":"#8a8a8a"},
"encoding":{"x":{"field":"t","type":"quantitative","scale":{"domain":[-0.75,183.75],"nice":false,"zero":false},
  "axis":{"values":[0,6,12,18,24,30,36,42,48,54,60,66,72,78,84,90,96,102,108,114,120,126,132,138,144,150,156,162,168,174],
   "labelExpr":"datum.value == 0 ? '7 Oct 2020' : (7 + floor(datum.value / 72)) + ' Oct ' + (floor((datum.value % 72) / 3) < 10 ? '0' : '') + floor((datum.value % 72) / 3) + ':00'",
   "labelAlign":"left","labelFontSize":4.5,"labelColor":"#333","labelPadding":1,"tickSize":2,"tickColor":"#666","domain":false,"grid":false,"title":null,"labelOverlap":false,"labelFlush":false}}},
"layer":[
{"data":{"values":[{"lv":80},{"lv":20}]},"mark":{"type":"rule","color":"#8d8d8d","strokeWidth":0.7,"strokeDash":[2,2]},
 "encoding":{"x":{"datum":-0.75,"type":"quantitative"},"x2":{"datum":178},"y":{"field":"lv","type":"quantitative","scale":{"domain":[0,100],"nice":false,"zero":false},"axis":null}}},
{"data":{"name":"stoch"},"mark":{"type":"line","color":"#9b9b9b","strokeWidth":0.8,"clip":true},
 "encoding":{"y":{"field":"d","type":"quantitative"}}},
{"data":{"name":"stoch"},"mark":{"type":"line","color":"#555555","strokeWidth":0.9,"clip":true},
 "encoding":{"y":{"field":"k","type":"quantitative"}}},
{"data":{"name":"stoch"},"transform":[{"window":[{"op":"lead","field":"t","as":"t2"},{"op":"lead","field":"k","as":"k2"}],"sort":[{"field":"t"}]},{"filter":"datum.t2 != null && max(datum.k, datum.k2) >= 80"}],
 "mark":{"type":"rule","color":"#e02020","strokeWidth":1.3},
 "encoding":{"y":{"field":"k","type":"quantitative"},"x2":{"field":"t2"},"y2":{"field":"k2"}}},
{"data":{"name":"stoch"},"transform":[{"window":[{"op":"lead","field":"t","as":"t2"},{"op":"lead","field":"k","as":"k2"}],"sort":[{"field":"t"}]},{"filter":"datum.t2 != null && min(datum.k, datum.k2) <= 20"}],
 "mark":{"type":"rule","color":"#25cc25","strokeWidth":1.3},
 "encoding":{"y":{"field":"k","type":"quantitative"},"x2":{"field":"t2"},"y2":{"field":"k2"}}},
{"data":{"values":[{"a":178,"b":183.75}]},"mark":{"type":"rect","color":"#e4e4e4"},
 "encoding":{"x":{"field":"a","type":"quantitative"},"x2":{"field":"b"}}},
{"data":{"values":[{"a":178}]},"mark":{"type":"rule","color":"#555","strokeWidth":1},
 "encoding":{"x":{"field":"a","type":"quantitative"}}},
{"data":{"name":"sticks"},"mark":{"type":"text","align":"left","baseline":"middle","fontSize":4.5,"color":"#222","dx":1.5},
 "encoding":{"x":{"field":"t","type":"quantitative"},"y":{"field":"lv","type":"quantitative"},"text":{"field":"lv","type":"quantitative"}}},
{"data":{"values":[{"t":0.5,"k":93,"label":"Stoch(5,3,3) 0.09027 %0.0950  Stochastic(14,3,3) MA,Low/High(20,20) 82.1881 72.8567"}]},
 "mark":{"type":"text","align":"left","baseline":"middle","fontSize":4.5,"color":"#222"},
 "encoding":{"y":{"field":"k","type":"quantitative"},"text":{"field":"label"}}},
{"data":{"values":[{"t":163,"k":20,"label":"518外汇网"}]},
 "mark":{"type":"text","align":"center","baseline":"middle","fontSize":24,"font":"Noto Sans CJK SC","fontWeight":"bold","color":"#8a8a8a","opacity":0.75},
 "encoding":{"y":{"field":"k","type":"quantitative"},"text":{"field":"label"}}}
]
}
]
}
